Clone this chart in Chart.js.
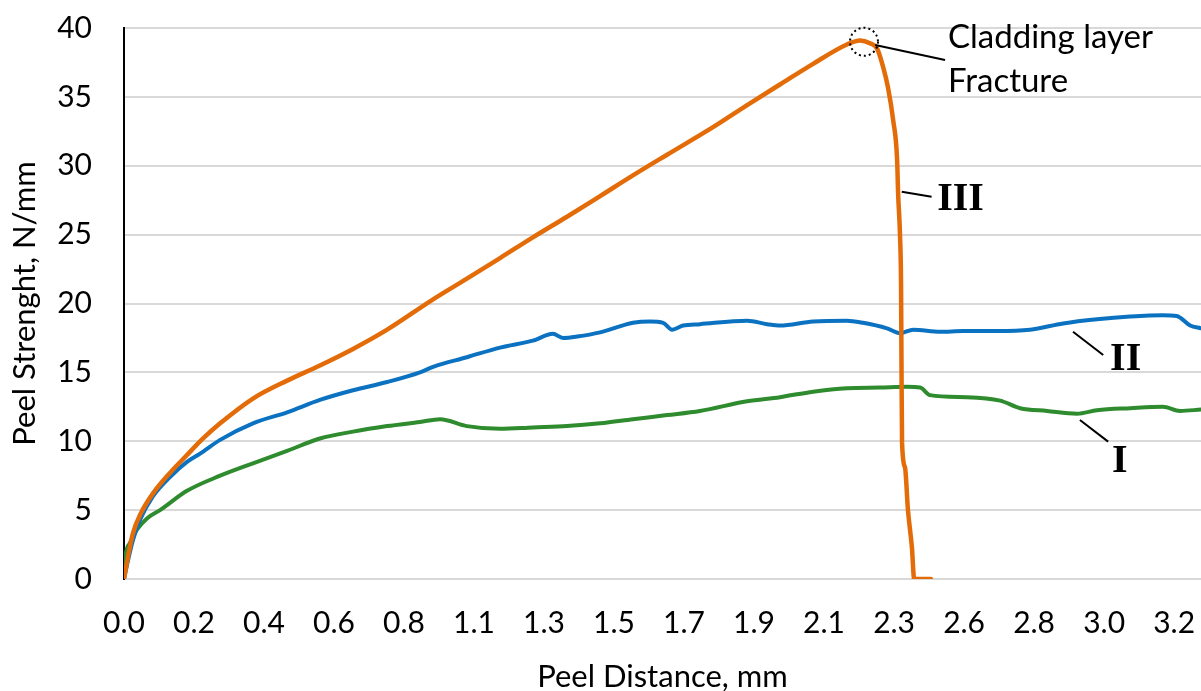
<!DOCTYPE html>
<html>
<head>
<meta charset="utf-8">
<script src="https://cdn.jsdelivr.net/npm/chart.js@4.4.1/dist/chart.umd.min.js"></script>
<style>
  html, body { margin: 0; padding: 0; background: #ffffff; }
  #wrap { width: 1201px; height: 691px; }
</style>
</head>
<body>
<div id="wrap"><canvas id="peel" width="1201" height="691"></canvas></div>
<script>
// Peel distance axis labels (mm)
const xTickLabels = ['0.0','0.2','0.4','0.6','0.8','1.1','1.3','1.5','1.7','1.9','2.1','2.3','2.6','2.8','3.0','3.2'];
const xTickStep = 3.2 / 15;
const xMax = 3.282;

// Sample I
const distI = [0,0.003,0.018,0.040,0.070,0.110,0.192,0.293,0.393,0.497,0.597,0.698,0.802,0.902,0.963,1.045,1.146,1.246,1.350,1.451,1.551,1.655,1.755,1.899,1.999,2.100,2.203,2.304,2.386,2.426,2.456,2.569,2.670,2.731,2.813,2.904,2.965,3.066,3.166,3.218,3.282];
const strengthI = [0,1.4,2.6,3.6,4.4,5.0,6.4,7.5,8.4,9.3,10.2,10.7,11.1,11.4,11.6,11.1,10.9,11.0,11.1,11.3,11.6,11.9,12.2,12.9,13.2,13.6,13.85,13.9,13.95,13.9,13.35,13.2,12.95,12.4,12.2,12.0,12.25,12.4,12.5,12.2,12.3];

// Sample II
const distII = [0,0.009,0.027,0.049,0.088,0.140,0.192,0.232,0.293,0.393,0.497,0.597,0.698,0.802,0.902,0.942,1.045,1.146,1.246,1.307,1.338,1.381,1.451,1.551,1.603,1.643,1.670,1.704,1.755,1.899,1.960,1.999,2.100,2.203,2.252,2.325,2.365,2.405,2.487,2.557,2.661,2.761,2.862,2.965,3.066,3.166,3.208,3.249,3.282];
const strengthII = [0,1.0,2.8,4.3,6.0,7.4,8.5,9.1,10.1,11.3,12.1,13.0,13.7,14.3,15.0,15.4,16.1,16.8,17.3,17.8,17.5,17.6,17.9,18.6,18.7,18.6,18.1,18.4,18.5,18.75,18.5,18.4,18.7,18.75,18.6,18.2,17.85,18.1,17.95,18.0,18.0,18.1,18.55,18.85,19.05,19.15,19.1,18.4,18.2];

// Sample III
const distIII = [0,0.012,0.027,0.052,0.088,0.140,0.192,0.241,0.293,0.393,0.497,0.597,0.698,0.802,0.942,1.045,1.146,1.246,1.350,1.451,1.551,1.655,1.795,1.899,1.999,2.100,2.203,2.243,2.273,2.295,2.313,2.328,2.344,2.356,2.359,2.365,2.368,2.369,2.371,2.380,2.389,2.401,2.408,2.459];
const strengthIII = [0,1.6,3.3,4.8,6.2,7.7,9.0,10.2,11.3,13.1,14.4,15.5,16.7,18.1,20.3,21.8,23.3,24.8,26.3,27.8,29.3,30.8,32.8,34.4,35.9,37.4,38.8,39.1,38.9,38.5,37.2,35.7,33.3,30.4,28.0,24.8,21.2,16.8,9.9,8.1,5.0,2.3,0,0];

const toPoints = (xs, ys) => xs.map((x, i) => ({ x, y: ys[i] }));

// Callout texts and leader lines, in axis units
const fractureMark = { x: 2.255, y: 39.0 };
const calloutTexts = [
  { text: 'Cladding layer', x: 2.511, y: 38.55, font: '33px Lato' },
  { text: 'Fracture', x: 2.511, y: 35.35, font: '33px Lato' },
  { text: 'III', x: 2.478, y: 26.79, font: 'bold 40px "Liberation Serif"' },
  { text: 'II', x: 3.005, y: 15.17, font: 'bold 40px "Liberation Serif"' },
  { text: 'I', x: 3.011, y: 7.77, font: 'bold 40px "Liberation Serif"' }
];
const leaderLines = [
  [2.289, 38.77, 2.502, 37.68],
  [2.370, 28.12, 2.461, 27.75],
  [2.892, 17.95, 2.984, 16.26],
  [2.913, 11.54, 2.999, 9.97]
];

const callouts = {
  id: 'callouts',
  afterDatasetsDraw(chart) {
    const { ctx, scales: { x, y } } = chart;
    ctx.save();
    // dotted ring around the fracture point
    ctx.beginPath();
    ctx.setLineDash([2, 3]);
    ctx.lineWidth = 2;
    ctx.strokeStyle = '#000';
    ctx.arc(x.getPixelForValue(fractureMark.x), y.getPixelForValue(fractureMark.y), 14, 0, Math.PI * 2);
    ctx.stroke();
    ctx.setLineDash([]);
    ctx.lineWidth = 2;
    leaderLines.forEach(([x1, y1, x2, y2]) => {
      ctx.beginPath();
      ctx.moveTo(x.getPixelForValue(x1), y.getPixelForValue(y1));
      ctx.lineTo(x.getPixelForValue(x2), y.getPixelForValue(y2));
      ctx.stroke();
    });
    ctx.fillStyle = '#000';
    ctx.textAlign = 'left';
    ctx.textBaseline = 'alphabetic';
    calloutTexts.forEach(t => {
      ctx.font = t.font;
      ctx.fillText(t.text, x.getPixelForValue(t.x), y.getPixelForValue(t.y));
    });
    ctx.restore();
  }
};

const line = (label, xs, ys, color, width) => ({
  label,
  data: toPoints(xs, ys),
  borderColor: color,
  backgroundColor: color,
  borderWidth: width,
  pointRadius: 0,
  showLine: true,
  cubicInterpolationMode: 'monotone',
  fill: false,
  borderJoinStyle: 'round',
  borderCapStyle: 'round'
});

new Chart(document.getElementById('peel'), {
  type: 'scatter',
  data: {
    datasets: [
      line('III', distIII, strengthIII, '#E36C09', 4.5),
      line('II', distII, strengthII, '#0B72C1', 4),
      line('I', distI, strengthI, '#2E8B2E', 4)
    ]
  },
  options: {
    responsive: false,
    animation: false,
    events: [],
    layout: { padding: { top: 28, right: 0, bottom: 0, left: 0 } },
    plugins: { legend: { display: false }, tooltip: { enabled: false } },
    scales: {
      x: {
        type: 'linear',
        min: 0,
        max: xMax,
        afterBuildTicks(scale) {
          scale.ticks = xTickLabels.map((_, i) => ({ value: i * xTickStep }));
        },
        afterFit(scale) {
          scale.height = 112;
          scale.paddingLeft = 0;
          scale.paddingRight = 0;
        },
        grid: { display: false, drawTicks: false },
        border: { display: false },
        ticks: {
          autoSkip: false,
          maxRotation: 0,
          padding: 26,
          color: '#000',
          font: { family: 'Lato', size: 30 },
          callback: (v, i) => xTickLabels[i]
        },
        title: {
          display: true,
          text: 'Peel Distance, mm',
          color: '#000',
          font: { family: 'Lato', size: 31 },
          padding: { top: 0, bottom: -5 }
        }
      },
      y: {
        min: 0,
        max: 40,
        afterFit(scale) {
          scale.width = 124;
          scale.paddingTop = 0;
          scale.paddingBottom = 0;
        },
        grid: { color: '#D9D9D9', lineWidth: 2, drawTicks: false },
        border: { display: true, color: '#000', width: 2 },
        ticks: {
          stepSize: 5,
          padding: 32,
          color: '#000',
          font: { family: 'Lato', size: 30 }
        },
        title: {
          display: true,
          text: 'Peel Strenght, N/mm',
          color: '#000',
          font: { family: 'Lato', size: 31 },
          padding: { top: 6, bottom: 0 }
        }
      }
    }
  },
  plugins: [callouts]
});
</script>
</body>
</html>
